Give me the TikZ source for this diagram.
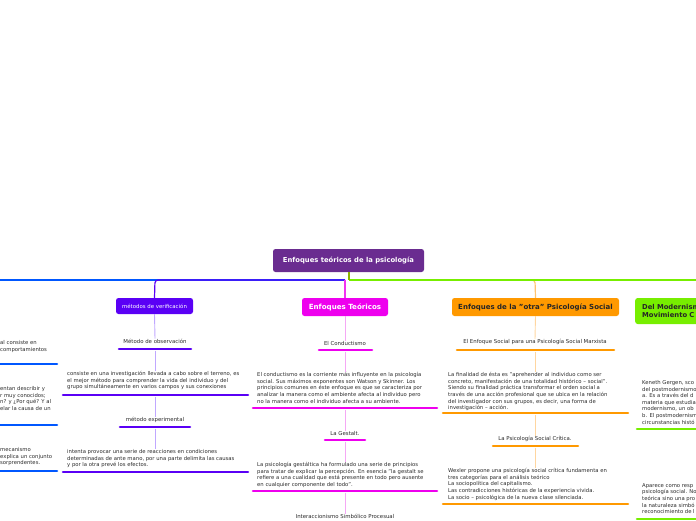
\documentclass[tikz,border=0pt]{standalone}
\usepackage{fontspec}
\setmainfont{DejaVu Sans}
\definecolor{txt}{HTML}{2A2A2A}
\definecolor{rootc}{HTML}{6A2C90}
\definecolor{vio}{HTML}{5A00F5}
\definecolor{violt}{HTML}{C0A8FF}
\definecolor{blu}{HTML}{0057FF}
\definecolor{mag}{HTML}{EE00EE}
\definecolor{maglt}{HTML}{F5A8F5}
\definecolor{ora}{HTML}{FF9900}
\definecolor{oralt}{HTML}{FFD6A0}
\definecolor{grn}{HTML}{77EE00}
\definecolor{stem}{HTML}{8DB400}
\begin{document}
\begin{tikzpicture}[x=1pt,y=-1pt,
  para/.style={font=\fontsize{5.3}{6.6}\selectfont, text=txt, align=left, inner sep=0, anchor=north west},
  lbl/.style={font=\fontsize{5.4}{6}\selectfont, text=txt, inner sep=0},
  uline/.style={line width=2.6pt, line cap=round},
  conn/.style={line width=0.9pt},
  trunk/.style={line width=1.2pt},
  box/.style={rounded corners=2.5pt, inner sep=0, align=center}]
\useasboundingbox (0,0) rectangle (696,520);
\clip (0,0) rectangle (696,520);

% root and trunk
\node[box, fill=rootc, text=white, minimum width=151pt, minimum height=23pt,
      font=\fontsize{6.8}{8}\selectfont\bfseries] (root) at (348.5,260.5) {Enfoques teóricos de la psicología};
\coordinate (hub) at (349,280);
\coordinate (hubL) at (345,280);
\coordinate (westend) at (-5,280);
\coordinate (eastend) at (705,280);
\coordinate (vcorner) at (155,280);
\coordinate (ocorner) at (535,280);

\node[box, fill=vio, text=white, minimum width=77pt, minimum height=16pt,
      font=\fontsize{5.4}{6}\selectfont] (met) at (154.5,306) {métodos de verificación};
\node[box, fill=mag, text=white, minimum width=86pt, minimum height=18pt,
      font=\fontsize{7.1}{8}\selectfont\bfseries] (teo) at (345,307) {Enfoques Teóricos};
\node[box, fill=ora, text=black!85, minimum width=167pt, minimum height=18pt,
      font=\fontsize{7}{8}\selectfont\bfseries] (otra) at (535.5,307) {Enfoques de la "otra" Psicología Social};
\node[box, fill=grn, text=black!85, minimum width=140pt, minimum height=26pt, anchor=west,
      text width=126pt, align=left, inner xsep=7pt,
      font=\fontsize{6.8}{8.8}\selectfont\bfseries] (mod) at (635,311) {Del Modernism\\Movimiento C};

\draw[trunk, blu] (hubL) -- (westend);
\draw[trunk, oralt!70!ora, rounded corners=3pt] (hub) -- (ocorner) -- (otra.north);
\draw[trunk, grn] (hub) -- (eastend);
\draw[trunk, vio, rounded corners=3pt] (hubL) -- (vcorner) -- (met.north);
\draw[trunk, mag!80!white] (hubL) -- (teo.north);
\draw[line width=1.6pt, stem] (root.south -| hub) -- (hub);

% ---------- left (blue, cut off) ----------
\node[para] (b1) at (0,340.5) {al consiste en\\comportamientos};
\draw[uline, blu] (-5,364) coordinate (b1a) -- (57,364) coordinate (b1b);
\node[para] (b2) at (0,386.5) {entan describir y\\r muy conocidos;\\n? y ¿Por qué? Y al\\elar la causa de un};
\draw[uline, blu] (-5,425) coordinate (b2a) -- (57,425) coordinate (b2b);
\node[para] (b3) at (0,447.5) {mecanismo\\explica un conjunto\\sorprendentes.};
\draw[uline, blu] (-5,471) coordinate (b3a) -- (57,471) coordinate (b3b);

% ---------- violet column ----------
\node[lbl] (mobs) at (155,341) {Método de observación};
\draw[uline, vio] (119,349) coordinate (mobsL) -- (191,349) coordinate (mobsR);
\coordinate (mobsU) at (155,350.5);
\node[para] (vp1) at (67,371.3) {consiste en una investigación llevada a cabo sobre el terreno, es\\el mejor método para comprender la vida del individuo y del\\grupo simultáneamente en varios campos y sus conexiones};
\draw[uline, vio] (63,395) coordinate (vp1L) -- (248,395) coordinate (vp1R);
\coordinate (vp1U) at (155,396.5);
\node[lbl] (mexp) at (155,420) {método experimental};
\draw[uline, vio] (120,427) coordinate (mexpL) -- (190,427) coordinate (mexpR);
\coordinate (mexpU) at (155,428.5);
\node[para] (vp2) at (67,449.3) {intenta provocar una serie de reacciones en condiciones\\determinadas de ante mano, por una parte delimita las causas\\y por la otra prevé los efectos.};
\draw[uline, vio] (63,472) -- (248,472);

\draw[conn, violt] (met.south) -- (mobs.north);
\draw[conn, violt] (mobsU) -- (mobsU |- vp1.north);
\draw[conn, violt] (vp1U) -- (mexp.north);
\draw[conn, violt] (mexpU) -- (mexpU |- vp2.north);

% ---------- magenta column ----------
\node[lbl] (cond) at (345,343) {El Conductismo};
\draw[uline, mag] (319,350) -- (372,350);
\coordinate (condU) at (345,351.5);
\node[para] (tp1) at (257,372.3) {El conductismo es la corriente más influyente en la psicología\\social. Sus máximos exponentes son Watson y Skinner. Los\\principios comunes en éste enfoque es que se caracteriza por\\analizar la manera como el ambiente afecta al individuo pero\\no la manera como el individuo afecta a su ambiente.};
\draw[uline, mag] (253,408) -- (437,408);
\coordinate (tp1U) at (345,409.5);
\node[lbl] (gest) at (345,433) {La Gestalt.};
\draw[uline, mag] (325,440) -- (365,440);
\coordinate (gestU) at (345,441.5);
\node[para] (tp2) at (257,462.3) {La psicología gestáltica ha formulado una serie de principios\\para tratar de explicar la percepción. En esencia "la gestalt se\\refiere a una cualidad que está presente en todo pero ausente\\en cualquier componente del todo".};
\draw[uline, mag] (253,491) -- (437,491);
\coordinate (tp2U) at (345,492.5);
\node[lbl] (inter) at (345,516) {Interaccionismo Simbólico Procesual};

\draw[conn, maglt] (teo.south) -- (cond.north);
\draw[conn, maglt] (condU) -- (condU |- tp1.north);
\draw[conn, maglt] (tp1U) -- (gest.north);
\draw[conn, maglt] (gestU) -- (gestU |- tp2.north);
\draw[conn, maglt] (tp2U) -- (inter.north);

% ---------- orange column ----------
\node[lbl] (marx) at (535,342) {El Enfoque Social para una Psicología Social Marxista};
\draw[uline, ora] (457,350) -- (614,350);
\coordinate (marxU) at (535,351.5);
\node[para] (op1) at (448,372.3) {La finalidad de ésta es "aprehender al individuo como ser\\concreto, manifestación de una totalidad histórico – social".\\Siendo su finalidad práctica transformar el orden social a\\través de una acción profesional que se ubica en la relación\\del investigador con sus grupos, es decir, una forma de\\investigación – acción.};
\draw[uline, ora] (443,413) -- (628,413);
\coordinate (op1U) at (535,414.5);
\node[lbl] (crit) at (535,439) {La Psicología Social Crítica.};
\draw[uline, ora] (493,446) -- (578,446);
\coordinate (critU) at (535,447.5);
\node[para] (op2) at (448,468.3) {Wexler propone una psicología social crítica fundamenta en\\tres categorías para el análisis teórico\\La sociopolítica del capitalismo.\\Las contradicciones históricas de la experiencia vivida.\\La socio – psicológica de la nueva clase silenciada.};
\draw[uline, ora] (443,504) -- (628,504);

\draw[conn, oralt] (otra.south) -- (marx.north);
\draw[conn, oralt] (marxU) -- (marxU |- op1.north);
\draw[conn, oralt] (op1U) -- (crit.north);
\draw[conn, oralt] (critU) -- (critU |- op2.north);

% ---------- green column (cut off) ----------
\node[para] (gp1) at (642,380.3) {Keneth Gergen, sco\\del postmodernismo\\a. Es a través del d\\materia que estudia\\modernismo, un ob\\b. El postmodernism\\circunstancias histó};
\draw[uline, grn] (637,429) -- (705,429);
\node[para] (gp2) at (642,483.3) {Aparece como resp\\psicología social. No\\teórica sino una pro\\la naturaleza simbó\\reconocimiento de l};
\draw[uline, grn] (637,519) -- (705,519);
\end{tikzpicture}
\end{document}
